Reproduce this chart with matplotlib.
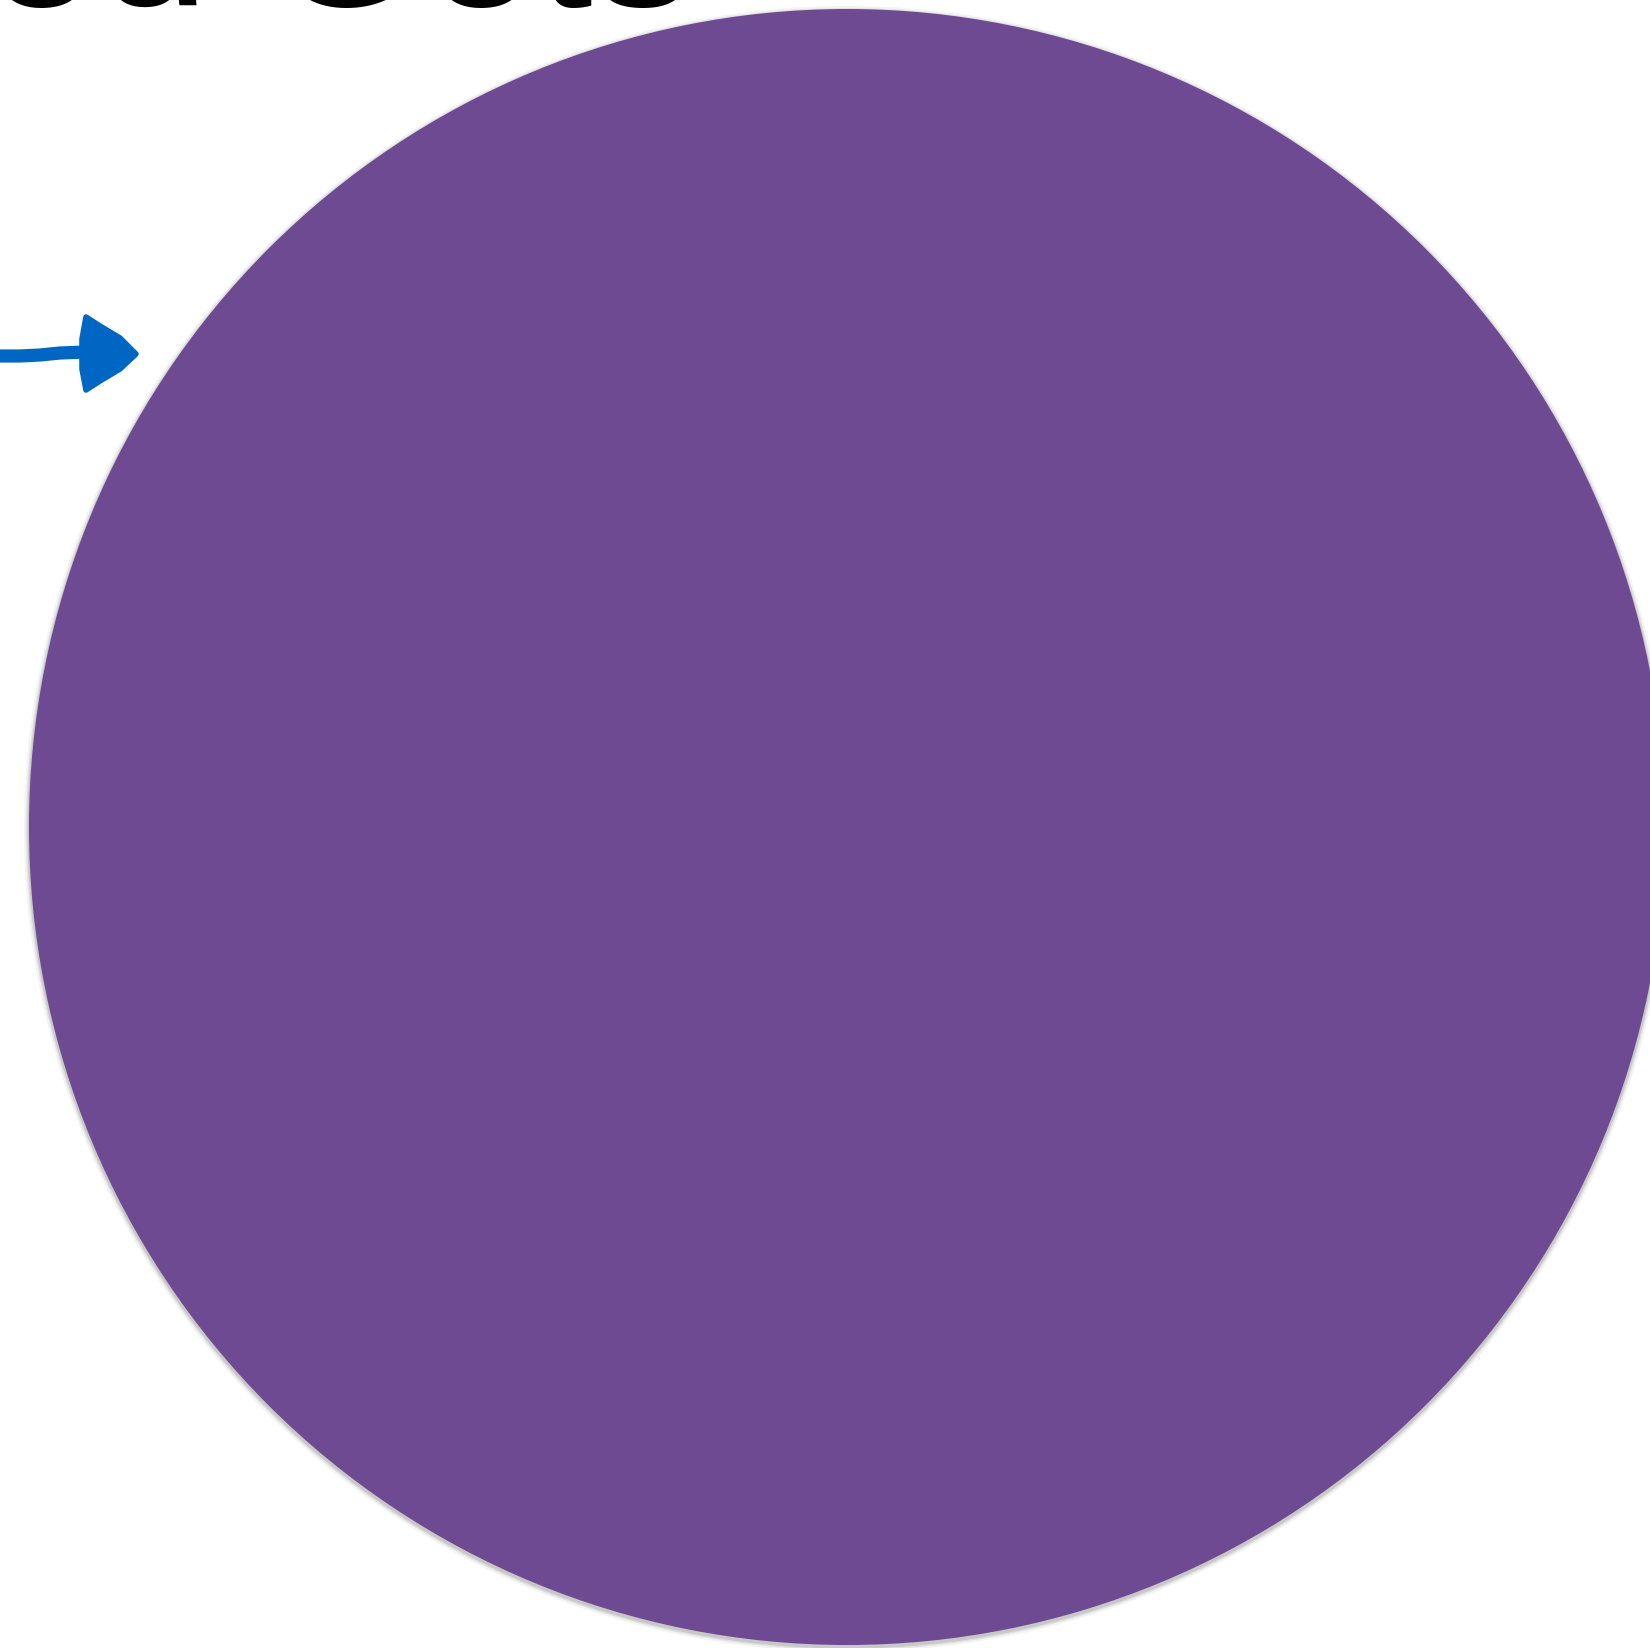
import matplotlib
matplotlib.use('Agg')
import matplotlib.pyplot as plt
from matplotlib.patches import Circle, Polygon

#%% picture values (pixel coordinates, y down)
W, H = 1650, 1649
disk_center = (847, 828)
disk_radius = 818
disk_color = '#6e4a93'

title_text = 'ed Gets'
title_pos = (-16, 6)

arrow_shaft_x = [0, 20, 40, 60, 86]
arrow_shaft_y = [357, 357, 356, 354, 353]
arrow_head = [(86, 318), (100, 327), (120, 339), (136, 355), (120, 370),
              (100, 382), (86, 391), (82, 370), (82, 340)]
arrow_color = '#0066c4'

#%% draw
fig = plt.figure(figsize=(W / 100, H / 100), dpi=100)
ax = fig.add_axes([0, 0, 1, 1])
ax.set_xlim(0, W)
ax.set_ylim(H, 0)
ax.set_aspect('equal')
ax.axis('off')

# soft shadow under the disk
for k, a in [(5, 0.06), (3, 0.10), (1.5, 0.15)]:
    ax.add_patch(Circle((disk_center[0], disk_center[1] + 2), disk_radius + k,
                        facecolor='#404040', edgecolor='none', alpha=a))
ax.add_patch(Circle(disk_center, disk_radius, facecolor=disk_color, edgecolor='none'))

ax.plot(arrow_shaft_x, arrow_shaft_y, color=arrow_color, lw=9.5,
        solid_capstyle='round')
ax.add_patch(Polygon(arrow_head, closed=True, facecolor=arrow_color,
                     edgecolor=arrow_color, lw=4, joinstyle='round'))

ax.text(title_pos[0], title_pos[1], title_text, fontsize=146,
        family='Liberation Sans', color='black', ha='left', va='baseline',
        clip_on=False)

fig.savefig('out.png', dpi=100)
